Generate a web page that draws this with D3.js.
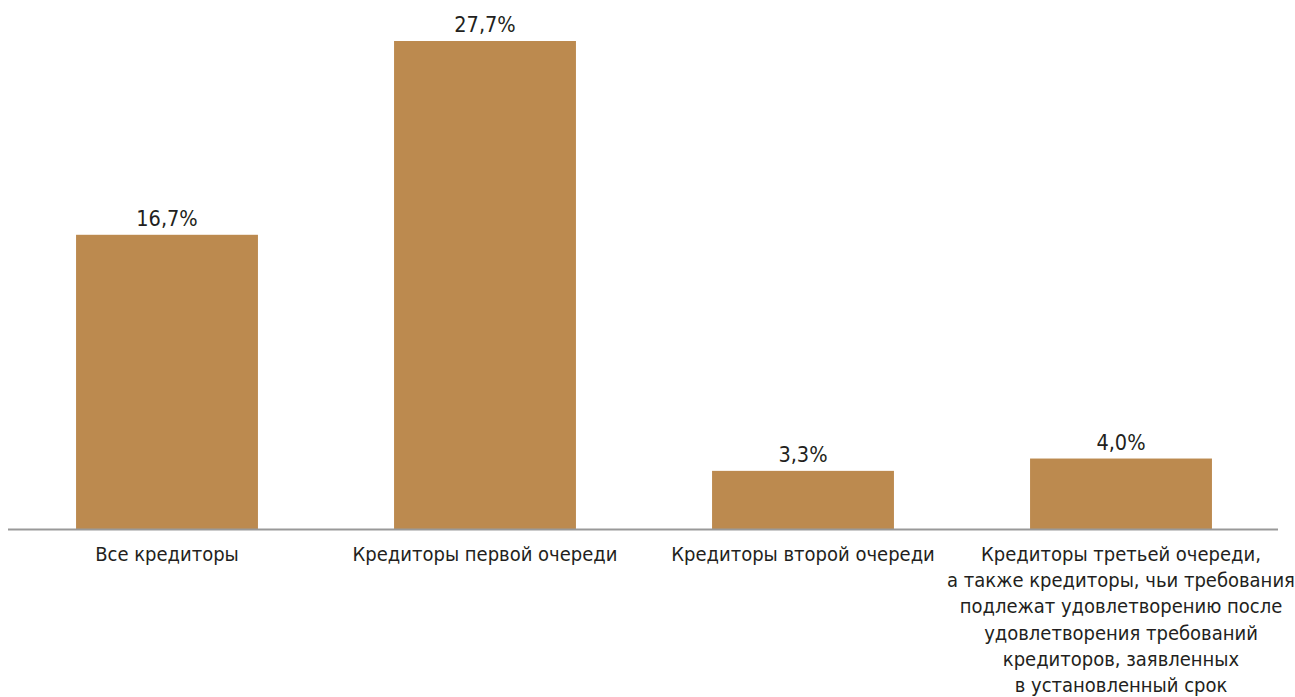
<!DOCTYPE html>
<html>
<head>
<meta charset="utf-8">
<script src="https://cdn.jsdelivr.net/npm/d3@7"></script>
<style>
  body { margin: 0; background: #fff; }
  text { font-family: "Liberation Sans Narrow", "DejaVu Sans Condensed", sans-serif; fill: #231f20; }
</style>
</head>
<body>
<svg id="chart" width="1295" height="697"></svg>
<script>
var categories = [
    ["Все кредиторы"],
    ["Кредиторы первой очереди"],
    ["Кредиторы второй очереди"],
    ["Кредиторы третьей очереди,", "а также кредиторы, чьи требования", "подлежат удовлетворению после",
     "удовлетворения требований", "кредиторов, заявленных", "в установленный срок"]
];
var values = [16.7, 27.7, 3.3, 4.0];
var valueLabels = ["16,7%", "27,7%", "3,3%", "4,0%"];

var svg = d3.select('#chart');
var baseY = 529;

var xScale = d3.scaleBand().domain(d3.range(values.length)).range([8, 1280])
    .paddingInner(0.428).paddingOuter(0.214);
var yScale = d3.scaleLinear().domain([0, 27.7]).range([baseY, 41]);

// bars
svg.append('g').selectAll('rect').data(values).enter().append('rect')
    .attr('x', function(d, i) { return xScale(i); })
    .attr('width', xScale.bandwidth())
    .attr('y', function(d) { return yScale(d); })
    .attr('height', function(d) { return baseY - yScale(d); })
    .style('fill', '#bc8a4f');

// value labels
svg.append('g').selectAll('text').data(values).enter().append('text')
    .attr('x', function(d, i) { return xScale(i) + xScale.bandwidth() / 2; })
    .attr('y', function(d) { return yScale(d) - 9; })
    .attr('text-anchor', 'middle')
    .style('font-size', '21.5px')
    .text(function(d, i) { return valueLabels[i]; });

// baseline
svg.append('line')
    .attr('x1', 8).attr('x2', 1278)
    .attr('y1', baseY + 0.5).attr('y2', baseY + 0.5)
    .style('stroke', '#999').style('stroke-width', 2);

// category labels
var cats = svg.append('g').selectAll('text').data(categories).enter().append('text')
    .attr('text-anchor', 'middle')
    .style('font-size', '20px')
    .attr('transform', function(d, i) { return 'translate(' + (xScale(i) + xScale.bandwidth() / 2) + ',561)'; });
cats.selectAll('tspan').data(function(d) { return d; }).enter().append('tspan')
    .attr('x', 0)
    .attr('y', function(d, j) { return j * 26.2; })
    .text(function(d) { return d; });
</script>
</body>
</html>
